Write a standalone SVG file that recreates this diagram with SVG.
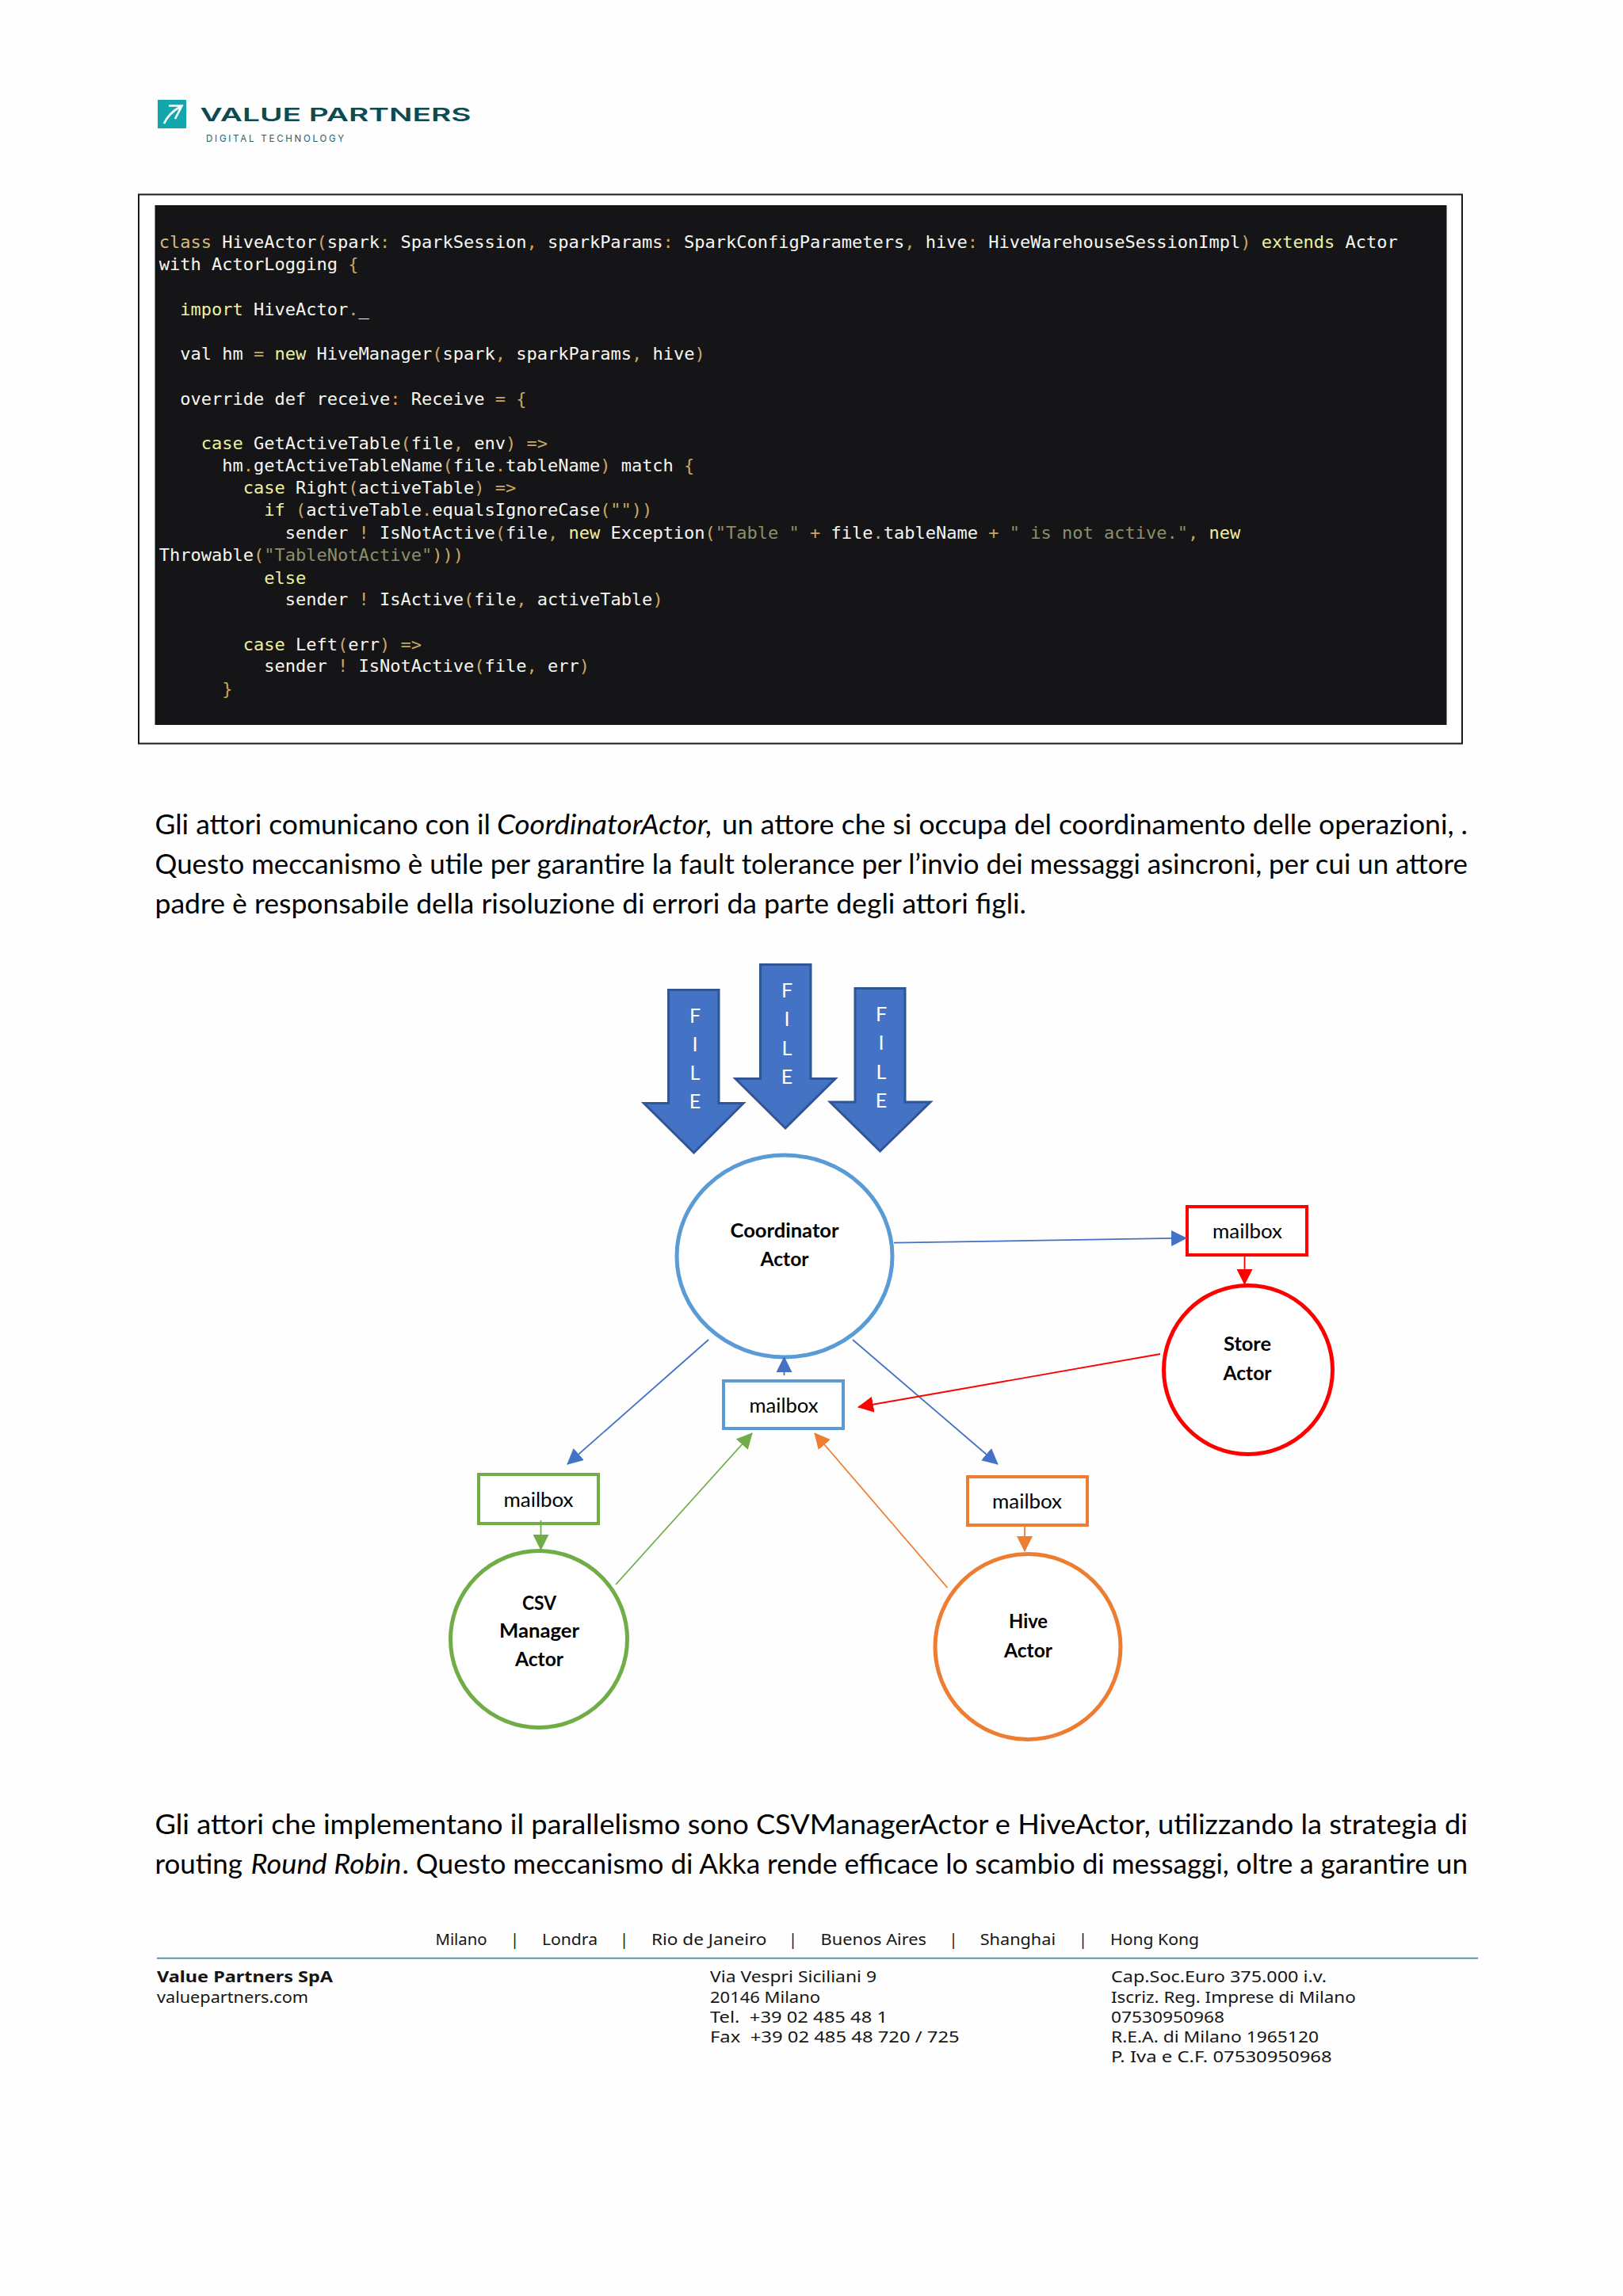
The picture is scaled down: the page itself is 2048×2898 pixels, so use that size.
<svg xmlns="http://www.w3.org/2000/svg" width="2048" height="2898" viewBox="0 0 2048 2898">
<style>
text{white-space:pre}
.code{font-family:"DejaVu Sans Mono","Liberation Mono",monospace;font-size:22px;fill:#f6f6f0}
.k{fill:#efef9f}.c{fill:#d4bb7c}.p{fill:#c9a763}.s{fill:#8e8e68}
.body{font-family:Lato,"Open Sans",sans-serif;font-size:34px;fill:#000}
.it{font-style:italic}
.lab{font-family:Lato,"Open Sans",sans-serif;font-size:25px;fill:#000;text-anchor:middle}
.bold{font-weight:700}
.file{font-family:Lato,"Open Sans",sans-serif;font-size:25px;fill:#fff;text-anchor:middle}
.foot{font-family:"Noto Sans","Open Sans",sans-serif;font-size:20px;fill:#151515}
.arrow{fill:#4472c4;stroke:#2f5597;stroke-width:3}
.node{fill:#fff;stroke-width:5}
.box{fill:#fff;stroke-width:4}
.bl{stroke:#5b9bd5}.re{stroke:#f00}.gr{stroke:#70ad47}.or{stroke:#ed7d31}
.ln{fill:none;stroke-width:1.8}
</style>
<defs>
<marker id="mb" markerUnits="userSpaceOnUse" markerWidth="20" markerHeight="20" refX="19" refY="10" orient="auto"><path d="M0,0L20,10L0,20Z" fill="#4472c4"/></marker>
<marker id="mr" markerUnits="userSpaceOnUse" markerWidth="20" markerHeight="20" refX="19" refY="10" orient="auto"><path d="M0,0L20,10L0,20Z" fill="#f00"/></marker>
<marker id="mg" markerUnits="userSpaceOnUse" markerWidth="20" markerHeight="20" refX="19" refY="10" orient="auto"><path d="M0,0L20,10L0,20Z" fill="#70ad47"/></marker>
<marker id="mo" markerUnits="userSpaceOnUse" markerWidth="20" markerHeight="20" refX="19" refY="10" orient="auto"><path d="M0,0L20,10L0,20Z" fill="#ed7d31"/></marker>
</defs>
<rect width="2048" height="2898" fill="#fefefe"/>
<g id="logo">
<rect x="199" y="126" width="36" height="36" fill="#13a7ad"/>
<path d="M213 133.500H229.500L221 150M207 156C211 147 218 140 227 135" fill="none" stroke="#fff" stroke-width="2.600"/>
<text x="252.500" y="152.500" font-family="Inter,Lato,sans-serif" font-size="23" font-weight="600" fill="#0e4a52" textLength="342" lengthAdjust="spacingAndGlyphs">VALUE PARTNERS</text>
<text x="260" y="179" font-family="Inter,Lato,sans-serif" font-size="11.500" fill="#2b5d63" textLength="174">DIGITAL TECHNOLOGY</text>
</g>
<g id="code">
<rect x="175" y="245.500" width="1670" height="693" fill="#fff" stroke="#1a1a1a" stroke-width="2"/>
<rect x="195.500" y="259" width="1630" height="656" fill="#151517"/>
<text class="code" x="200.800" y="313"><tspan class="c">class</tspan> HiveActor<tspan class="p">(</tspan>spark<tspan class="p">:</tspan> SparkSession<tspan class="p">,</tspan> sparkParams<tspan class="p">:</tspan> SparkConfigParameters<tspan class="p">,</tspan> hive<tspan class="p">:</tspan> HiveWarehouseSessionImpl<tspan class="p">)</tspan> <tspan class="k">extends</tspan> Actor</text>
<text class="code" x="200.800" y="341">with ActorLogging <tspan class="p">{</tspan></text>
<text class="code" x="200.800" y="398">  <tspan class="k">import</tspan> HiveActor<tspan class="p">.</tspan>_</text>
<text class="code" x="200.800" y="454">  val hm <tspan class="p">=</tspan> <tspan class="k">new</tspan> HiveManager<tspan class="p">(</tspan>spark<tspan class="p">,</tspan> sparkParams<tspan class="p">,</tspan> hive<tspan class="p">)</tspan></text>
<text class="code" x="200.800" y="511">  override def receive<tspan class="p">:</tspan> Receive <tspan class="p">= {</tspan></text>
<text class="code" x="200.800" y="567">    <tspan class="k">case</tspan> GetActiveTable<tspan class="p">(</tspan>file<tspan class="p">,</tspan> env<tspan class="p">)</tspan> <tspan class="p">=&gt;</tspan></text>
<text class="code" x="200.800" y="595">      hm<tspan class="p">.</tspan>getActiveTableName<tspan class="p">(</tspan>file<tspan class="p">.</tspan>tableName<tspan class="p">)</tspan> match <tspan class="p">{</tspan></text>
<text class="code" x="200.800" y="623">        <tspan class="k">case</tspan> Right<tspan class="p">(</tspan>activeTable<tspan class="p">)</tspan> <tspan class="p">=&gt;</tspan></text>
<text class="code" x="200.800" y="651">          <tspan class="k">if</tspan> <tspan class="p">(</tspan>activeTable<tspan class="p">.</tspan>equalsIgnoreCase<tspan class="p">("")</tspan><tspan class="p">)</tspan></text>
<text class="code" x="200.800" y="680">            sender <tspan class="p">!</tspan> IsNotActive<tspan class="p">(</tspan>file<tspan class="p">,</tspan> <tspan class="k">new</tspan> Exception<tspan class="p">(</tspan><tspan class="s">"Table "</tspan> <tspan class="p">+</tspan> file<tspan class="p">.</tspan>tableName <tspan class="p">+</tspan> <tspan class="s">" is not active."</tspan><tspan class="p">,</tspan> <tspan class="k">new</tspan></text>
<text class="code" x="200.800" y="708">Throwable<tspan class="p">(</tspan><tspan class="s">"TableNotActive"</tspan><tspan class="p">)))</tspan></text>
<text class="code" x="200.800" y="737">          <tspan class="k">else</tspan></text>
<text class="code" x="200.800" y="764">            sender <tspan class="p">!</tspan> IsActive<tspan class="p">(</tspan>file<tspan class="p">,</tspan> activeTable<tspan class="p">)</tspan></text>
<text class="code" x="200.800" y="821">        <tspan class="k">case</tspan> Left<tspan class="p">(</tspan>err<tspan class="p">)</tspan> <tspan class="p">=&gt;</tspan></text>
<text class="code" x="200.800" y="848">          sender <tspan class="p">!</tspan> IsNotActive<tspan class="p">(</tspan>file<tspan class="p">,</tspan> err<tspan class="p">)</tspan></text>
<text class="code" x="200.800" y="877">      <tspan class="p">}</tspan></text>
</g>
<g id="para1">
<text class="body" x="195.500" y="1053" textLength="423.500" lengthAdjust="spacingAndGlyphs">Gli attori comunicano con il</text>
<text class="body it" x="627" y="1053" textLength="272" lengthAdjust="spacingAndGlyphs">CoordinatorActor,</text>
<text class="body" x="911" y="1053" textLength="941" lengthAdjust="spacingAndGlyphs">un attore che si occupa del coordinamento delle operazioni, .</text>
<text class="body" x="195.500" y="1103" textLength="1656.500" lengthAdjust="spacingAndGlyphs">Questo meccanismo è utile per garantire la fault tolerance per l’invio dei messaggi asincroni, per cui un attore</text>
<text class="body" x="195.500" y="1153" textLength="1099.500" lengthAdjust="spacingAndGlyphs">padre è responsabile della risoluzione di errori da parte degli attori figli.</text>
</g>
<g id="file1">
<path class="arrow" d="M843.500 1249.500H907V1392.500H938L875.500 1455L812.500 1392.500H843.500Z"/>
<text class="file" x="877" y="1291">F</text><text class="file" x="877" y="1327">I</text><text class="file" x="877" y="1363">L</text><text class="file" x="877" y="1399">E</text>
</g>
<g id="file2">
<path class="arrow" d="M959.500 1217.500H1023V1361.500H1054L991 1424L928 1361.500H959.500Z"/>
<text class="file" x="993" y="1258.500">F</text><text class="file" x="993" y="1295">I</text><text class="file" x="993" y="1332">L</text><text class="file" x="993" y="1367.500">E</text>
</g>
<g id="file3">
<path class="arrow" d="M1079 1247.500H1142V1391H1174L1110.500 1453L1047.500 1391H1079Z"/>
<text class="file" x="1112" y="1289">F</text><text class="file" x="1112" y="1325">I</text><text class="file" x="1112" y="1361.500">L</text><text class="file" x="1112" y="1397.500">E</text>
</g>
<g id="coordinator-actor">
<ellipse class="node bl" cx="990" cy="1585.500" rx="136" ry="127.500"/>
<text class="lab bold" x="990" y="1561.500" textLength="137" lengthAdjust="spacingAndGlyphs">Coordinator</text>
<text class="lab bold" x="990" y="1598" textLength="61" lengthAdjust="spacingAndGlyphs">Actor</text>
</g>
<g id="mailbox-coordinator">
<rect class="box bl" x="913" y="1743" width="151" height="60"/>
<text class="lab" x="989" y="1783" textLength="87" lengthAdjust="spacingAndGlyphs">mailbox</text>
</g>
<g id="mailbox-store">
<rect class="box re" x="1498" y="1523" width="151" height="61"/>
<text class="lab" x="1574" y="1563" textLength="88" lengthAdjust="spacingAndGlyphs">mailbox</text>
</g>
<g id="store-actor">
<ellipse class="node re" cx="1575" cy="1729" rx="106.500" ry="106.500"/>
<text class="lab bold" x="1574" y="1705" textLength="60" lengthAdjust="spacingAndGlyphs">Store</text>
<text class="lab bold" x="1574" y="1741.500" textLength="61" lengthAdjust="spacingAndGlyphs">Actor</text>
</g>
<g id="mailbox-csv">
<rect class="box gr" x="604" y="1861" width="151" height="62"/>
<text class="lab" x="679.500" y="1902" textLength="88" lengthAdjust="spacingAndGlyphs">mailbox</text>
</g>
<g id="csv-manager-actor">
<ellipse class="node gr" cx="680" cy="2069" rx="111.500" ry="111.500"/>
<text class="lab bold" x="680.500" y="2031.500" textLength="43" lengthAdjust="spacingAndGlyphs">CSV</text>
<text class="lab bold" x="680.500" y="2067" textLength="101" lengthAdjust="spacingAndGlyphs">Manager</text>
<text class="lab bold" x="680.500" y="2103" textLength="61" lengthAdjust="spacingAndGlyphs">Actor</text>
</g>
<g id="mailbox-hive">
<rect class="box or" x="1221" y="1864" width="151" height="61"/>
<text class="lab" x="1296" y="1904" textLength="88" lengthAdjust="spacingAndGlyphs">mailbox</text>
</g>
<g id="hive-actor">
<ellipse class="node or" cx="1297" cy="2078.500" rx="117" ry="117"/>
<text class="lab bold" x="1297.500" y="2055" textLength="49" lengthAdjust="spacingAndGlyphs">Hive</text>
<text class="lab bold" x="1297.500" y="2091.500" textLength="61" lengthAdjust="spacingAndGlyphs">Actor</text>
</g>
<g id="connectors">
<path class="ln" stroke="#4472c4" marker-end="url(#mb)" d="M1128 1568.700L1497 1562.700"/>
<path class="ln" stroke="#4472c4" marker-end="url(#mb)" d="M989.500 1736L989.500 1713"/>
<path class="ln" stroke="#4472c4" marker-end="url(#mb)" d="M1076 1691L1259 1848"/>
<path class="ln" stroke="#4472c4" marker-end="url(#mb)" d="M894 1691L716 1848"/>
<path class="ln" stroke="#f00" marker-end="url(#mr)" d="M1464 1709L1083 1776"/>
<path class="ln" stroke="#f00" marker-end="url(#mr)" d="M1570.500 1585L1570.500 1621"/>
<path class="ln" stroke="#70ad47" marker-end="url(#mg)" d="M682.500 1919L682.500 1956"/>
<path class="ln" stroke="#70ad47" stroke-width="1.500" marker-end="url(#mg)" d="M777 2000L949 1809"/>
<path class="ln" stroke="#ed7d31" marker-end="url(#mo)" d="M1293 1926L1293 1958"/>
<path class="ln" stroke="#ed7d31" marker-end="url(#mo)" d="M1195.500 2004L1028 1809"/>
</g>
<g id="para2">
<text class="body" x="195.500" y="2315" textLength="1656.500" lengthAdjust="spacingAndGlyphs">Gli attori che implementano il parallelismo sono CSVManagerActor e HiveActor, utilizzando la strategia di</text>
<text class="body" x="195.500" y="2365" textLength="110.500" lengthAdjust="spacingAndGlyphs">routing</text>
<text class="body it" x="316.500" y="2365" textLength="190" lengthAdjust="spacingAndGlyphs">Round Robin</text>
<text class="body" x="507.500" y="2365" textLength="1344.500" lengthAdjust="spacingAndGlyphs">. Questo meccanismo di Akka rende efficace lo scambio di messaggi, oltre a garantire un</text>
</g>
<g id="footer">
<path d="M198 2471.700H1865" stroke="#2f9196" stroke-width="1.800"/>
<text class="foot" x="549.500" y="2455" textLength="65" lengthAdjust="spacingAndGlyphs">Milano</text>
<text class="foot" x="644" y="2455">|</text>
<text class="foot" x="684" y="2455" textLength="70" lengthAdjust="spacingAndGlyphs">Londra</text>
<text class="foot" x="782" y="2455">|</text>
<text class="foot" x="822" y="2455" textLength="145.500" lengthAdjust="spacingAndGlyphs">Rio de Janeiro</text>
<text class="foot" x="995" y="2455">|</text>
<text class="foot" x="1035.500" y="2455" textLength="133.500" lengthAdjust="spacingAndGlyphs">Buenos Aires</text>
<text class="foot" x="1197.500" y="2455">|</text>
<text class="foot" x="1236.700" y="2455" textLength="95.300" lengthAdjust="spacingAndGlyphs">Shanghai</text>
<text class="foot" x="1361" y="2455">|</text>
<text class="foot" x="1401" y="2455" textLength="112" lengthAdjust="spacingAndGlyphs">Hong Kong</text>
<text class="foot bold" x="198" y="2502" textLength="222" lengthAdjust="spacingAndGlyphs">Value Partners SpA</text>
<text class="foot" x="198" y="2527.500" textLength="191" lengthAdjust="spacingAndGlyphs">valuepartners.com</text>
<text class="foot" x="896" y="2502" textLength="210" lengthAdjust="spacingAndGlyphs">Via Vespri Siciliani 9</text>
<text class="foot" x="896" y="2527.500" textLength="139" lengthAdjust="spacingAndGlyphs">20146 Milano</text>
<text class="foot" x="896" y="2552.700" textLength="224" lengthAdjust="spacingAndGlyphs">Tel.  +39 02 485 48 1</text>
<text class="foot" x="896" y="2578" textLength="314.700" lengthAdjust="spacingAndGlyphs">Fax  +39 02 485 48 720 / 725</text>
<text class="foot" x="1402" y="2502" textLength="272" lengthAdjust="spacingAndGlyphs">Cap.Soc.Euro 375.000 i.v.</text>
<text class="foot" x="1402" y="2527.500" textLength="308.700" lengthAdjust="spacingAndGlyphs">Iscriz. Reg. Imprese di Milano</text>
<text class="foot" x="1402" y="2552.700" textLength="143" lengthAdjust="spacingAndGlyphs">07530950968</text>
<text class="foot" x="1402" y="2578" textLength="262" lengthAdjust="spacingAndGlyphs">R.E.A. di Milano 1965120</text>
<text class="foot" x="1402" y="2603" textLength="278.600" lengthAdjust="spacingAndGlyphs">P. Iva e C.F. 07530950968</text>
</g>
</svg>
